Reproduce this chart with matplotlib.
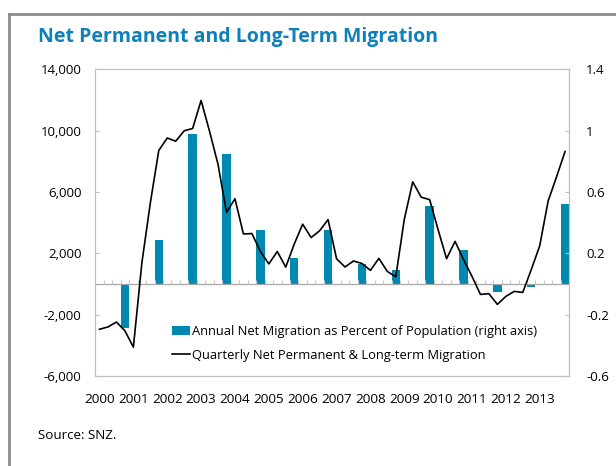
import numpy as np
import matplotlib
matplotlib.use('Agg')
from matplotlib import pyplot as plt
from matplotlib.lines import Line2D
from matplotlib.ticker import FuncFormatter

FONT = 'Open Sans'
FONTSIZE = 9
BAR_COLOR = '#0089B0'
TITLE_COLOR = '#0E80BA'
GRID_GRAY = '#BFBFBF'

years = list(range(2000, 2014))

# quarterly net permanent & long-term migration (left axis), 56 quarters
quarterly_migration = [
    -2950, -2800, -2480, -3050, -4120, 1370, 5280, 8710,
    9520, 9310, 9990, 10140, 11970, 9950, 7800, 4670,
    5560, 3260, 3290, 2130, 1310, 2120, 1100, 2600,
    3900, 3030, 3470, 4200, 1650, 1110, 1500, 1340,
    890, 1670, 820, 470, 4200, 6660, 5660, 5500,
    3540, 1650, 2780, 1600, 500, -680, -630, -1330,
    -810, -480, -550, 930, 2480, 5410, 7000, 8640,
]

# annual net migration as % of population (right axis), one per year
annual_pct = [-0.29, 0.29, 0.98, 0.85, 0.35, 0.17, 0.35,
              0.13, 0.09, 0.51, 0.22, -0.05, -0.02, 0.52]

left_ticks = [-6000, -2000, 2000, 6000, 10000, 14000]
right_ticks = [-0.6, -0.2, 0.2, 0.6, 1.0, 1.4]

plt.rcParams['font.family'] = [FONT, 'DejaVu Sans']

fig = plt.figure(figsize=(6.16, 4.66), dpi=100)
ax = fig.add_axes([0.1547, 0.1931, 0.7695, 0.6582])
ax2 = ax.twinx()

n_q = len(quarterly_migration)
xq = np.arange(n_q)
xbar = np.arange(3, n_q, 4)

bars = ax2.bar(xbar, annual_pct, width=1.0, color=BAR_COLOR, linewidth=0,
               label='Annual Net Migration as Percent of Population (right axis)')
line, = ax.plot(xq, quarterly_migration, color='black', lw=1.2,
                label='Quarterly Net Permanent & Long-term Migration')

ax.set_zorder(ax2.get_zorder() + 1)
ax.patch.set_visible(False)

ax.set_xlim(-0.5, n_q - 0.5)
ax.set_ylim(-6000, 14000)
ax2.set_ylim(-0.6, 1.4)

ax.set_yticks(left_ticks)
ax.yaxis.set_major_formatter(FuncFormatter(lambda v, p: f'{int(v):,}'))
ax2.set_yticks(right_ticks)
ax2.yaxis.set_major_formatter(FuncFormatter(lambda v, p: f'{v:g}'))

# zero line with quarter tick marks
ax.axhline(0, color='#A6A6A6', lw=0.9, zorder=1)
ax.vlines(np.arange(1, n_q) - 0.5, 0, 250, color='#C8C8C8', lw=0.8, zorder=1)

# year labels at bottom
ax.set_xticks(xq[::4])
ax.set_xticklabels([str(y) for y in years])
ax.tick_params(axis='x', length=0, pad=12, labelsize=9.7)
ax.tick_params(axis='y', direction='in', length=3, color=GRID_GRAY,
               pad=10, labelsize=FONTSIZE + 0.5)
ax2.tick_params(axis='y', direction='in', length=3, color=GRID_GRAY,
                pad=12, labelsize=FONTSIZE + 0.5)

for a in (ax, ax2):
    for s in a.spines.values():
        s.set_color(GRID_GRAY)
        s.set_linewidth(0.8)

ax.legend(handles=[bars, line], loc='lower left',
          bbox_to_anchor=(0.15, 0.03), frameon=False, fontsize=9.25,
          handlelength=1.4, handletextpad=0.2, labelspacing=0.8,
          borderaxespad=0)

fig.text(0.062, 0.92, 'Net Permanent and Long-Term Migration',
         fontsize=14, fontweight='bold', color=TITLE_COLOR, va='center')
fig.text(0.062, 0.066, 'Source: SNZ.', fontsize=9.6, va='center')

# outer frame
fy = 1 - 14 / 466
fx = 9 / 616
fig.add_artist(Line2D([fx, fx], [0, fy], color='#8C8C8C', lw=2))
fig.add_artist(Line2D([fx, 1], [fy, fy], color='#8C8C8C', lw=2))

fig.savefig('out.png', dpi=100)
